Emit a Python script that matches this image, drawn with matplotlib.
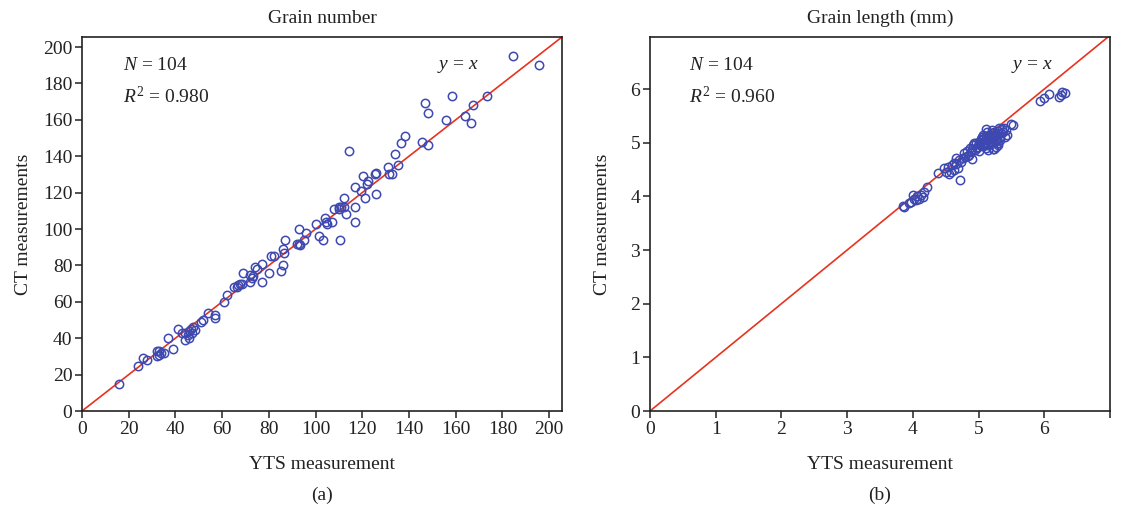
import matplotlib
matplotlib.use("Agg")
import matplotlib.pyplot as plt
import numpy as np

plt.rcParams['font.family'] = ['Liberation Serif', 'DejaVu Serif']
plt.rcParams['mathtext.fontset'] = 'custom'
plt.rcParams['mathtext.rm'] = 'Liberation Serif'
plt.rcParams['mathtext.it'] = 'Liberation Serif:italic'

# Panel (a): grain number
a_yts = [16, 24, 26, 28, 32, 33, 32, 34, 33, 37, 39, 41, 42.6, 44, 44, 45.4, 46, 46.6, 47.6, 48.3,
         46, 51, 52, 54, 57, 57, 61, 62, 65, 67, 67.6, 68.3, 66.4, 69, 72, 72.6, 73.3, 74, 75, 72,
         77, 77, 80, 81, 82, 85, 86, 86, 86.5, 87, 92, 93, 93.3, 93, 95, 96, 100, 101.5, 103, 104,
         104.5, 107, 108, 110, 111, 112, 110.5, 112, 113, 114.4, 117, 117, 117, 119.5, 120.4, 121, 122, 122.6,
         125.5, 126, 131.6, 132.6, 131, 135.5, 134, 136.5, 138.4, 145.5, 148, 147, 148, 156, 158.5, 164,
         166.5, 167.5, 173.5, 184.5, 195.5, 105, 47, 126, 35, 110]
a_ct = [15, 25, 29, 28, 33, 33, 30, 32, 31, 40, 34, 45, 43, 43, 39, 42, 44, 45, 46, 44.5,
        40, 49, 50, 54, 53, 51, 60, 64, 68, 69, 70, 70, 68, 76, 71, 73, 74, 79, 78, 75,
        71, 81, 76, 85, 85, 77, 80, 89, 87, 94, 92, 92, 91, 100, 94, 98, 103, 96, 94, 106,
        104, 104, 111, 111, 112, 112, 94, 117, 108, 143, 123, 112, 104, 121, 129, 117, 125, 126.5,
        130, 131, 130, 130, 134, 135, 141, 147, 151, 148, 146, 169, 164, 160, 173, 162,
        158, 168, 173, 195, 190, 103, 43, 119, 32, 112]

# Panel (b): grain length (mm)
b_yts = [3.85, 3.87, 3.97, 4.02, 4.07, 4.12, 4.17, 4.21, 4.05, 4.10, 4.15, 3.94, 4.00,
         4.38, 4.48, 4.53, 4.58, 4.63, 4.66, 4.68, 4.73, 4.72, 4.50, 4.55, 4.60, 4.62, 4.65, 4.70,
         4.76, 4.78, 4.80, 4.82, 4.85, 4.88, 4.90, 4.92, 4.95, 4.97, 5.00, 5.02, 5.04, 5.06, 5.08,
         5.10, 5.12, 5.14, 5.16, 5.18, 5.20, 5.22, 5.24, 5.26, 5.28, 5.30, 5.32, 5.34, 5.36, 5.38,
         4.84, 4.87, 4.93, 4.98, 5.01, 5.05, 5.09, 5.11, 5.13, 5.15, 5.19, 5.21, 5.23, 5.25, 5.27,
         5.29, 5.31, 5.33, 5.03, 5.07, 5.17, 5.22, 5.00, 5.10, 5.20, 5.30, 4.96, 5.06, 5.14, 5.26,
         5.37, 5.42, 5.50, 5.52, 5.44, 5.40,
         5.94, 6.00, 6.07, 6.25, 6.27, 6.31, 6.23, 5.12, 5.24, 4.90]
b_ct = [3.82, 3.80, 3.90, 3.95, 4.00, 4.02, 4.09, 4.17, 3.93, 3.96, 3.98, 3.87, 4.03,
        4.43, 4.52, 4.55, 4.46, 4.62, 4.71, 4.52, 4.64, 4.30, 4.45, 4.42, 4.58, 4.50, 4.60, 4.68,
        4.72, 4.80, 4.74, 4.85, 4.78, 4.82, 4.88, 4.95, 4.86, 4.92, 5.02, 4.95, 5.05, 4.98, 5.08,
        5.00, 5.12, 5.05, 5.15, 5.08, 5.18, 5.10, 5.20, 5.05, 5.15, 5.22, 5.10, 5.18, 5.25, 5.28,
        4.76, 4.90, 5.00, 4.90, 4.97, 5.10, 5.02, 4.90, 5.20, 4.95, 4.98, 5.24, 5.02, 5.12, 4.92,
        5.00, 5.28, 5.05, 5.06, 4.94, 5.10, 4.88, 4.84, 4.96, 5.15, 4.96, 5.00, 5.14, 4.86, 5.04,
        5.20, 5.24, 5.35, 5.33, 5.14, 5.10,
        5.78, 5.83, 5.90, 5.89, 5.95, 5.93, 5.86, 5.25, 4.88, 4.70]

titles = ["Grain number", "Grain length (mm)"]
sublabels = ["(a)", "(b)"]
r2_texts = ["0.980", "0.960"]
n_count = 104

fig = plt.figure(figsize=(11.23, 5.09), dpi=100)
ax1 = fig.add_axes([82/1123, 1-411/509, (562-82)/1123, (411-37)/509])
ax2 = fig.add_axes([650/1123, 1-411/509, (1110-650)/1123, (411-37)/509])

blue = '#3d48b0'
red = '#e8321f'
fs = 14

def style(ax):
    for s in ['top', 'right', 'left', 'bottom']:
        ax.spines[s].set_linewidth(1.2)
        ax.spines[s].set_color('#222222')
    ax.tick_params(direction='out', length=5, width=1.1, labelsize=fs, colors='#222222',
                   top=False, right=False, pad=2)

# Panel a
ax1.plot([0, 205.5], [0, 205.5], color=red, lw=1.2, zorder=1)
ax1.plot(a_yts, a_ct, 'o', mfc='none', mec=blue, ms=6, mew=1.1, zorder=2)
ax1.set_xlim(0, 205.5)
ax1.set_ylim(0, 205.5)
ax1.set_xticks(np.arange(0, 201, 20))
ax1.set_yticks(np.arange(0, 201, 20))
style(ax1)

# Panel b
ax2.plot([0, 7.0], [0, 7.0], color=red, lw=1.2, zorder=1)
ax2.plot(b_yts, b_ct, 'o', mfc='none', mec=blue, ms=6, mew=1.1, zorder=2)
ax2.set_xlim(0, 7.0)
ax2.set_ylim(0, 6.97)
ax2.set_xticks(np.arange(0, 8, 1))
ax2.set_xticklabels([str(i) for i in range(7)] + [''])
ax2.set_yticks(np.arange(0, 7, 1))
style(ax2)

for ax, t, sl, r2, lp in zip([ax1, ax2], titles, sublabels, r2_texts, [8, 14]):
    ax.set_title(t, fontsize=fs, pad=10, color='#222222')
    ax.set_xlabel("YTS measurement", fontsize=fs, labelpad=13, color='#222222')
    ax.set_ylabel("CT measurements", fontsize=fs, labelpad=lp, color='#222222')
    ax.text(0.5, -0.225, sl, transform=ax.transAxes, ha='center', va='center', fontsize=fs, color='#222222')
    ax.text(0.085, 0.925, f"$N$ = {n_count}", transform=ax.transAxes, ha='left', va='center', fontsize=fs, color='#222222')
    ax.text(0.085, 0.84, f"$R^2$ = {r2}", transform=ax.transAxes, ha='left', va='center', fontsize=fs, color='#222222')

ax1.text(0.74, 0.92, "$y$ = $x$", transform=ax1.transAxes, ha='left', va='center', fontsize=fs, color='#222222')
ax2.text(0.785, 0.92, "$y$ = $x$", transform=ax2.transAxes, ha='left', va='center', fontsize=fs, color='#222222')

fig.savefig("out.png", dpi=100)
